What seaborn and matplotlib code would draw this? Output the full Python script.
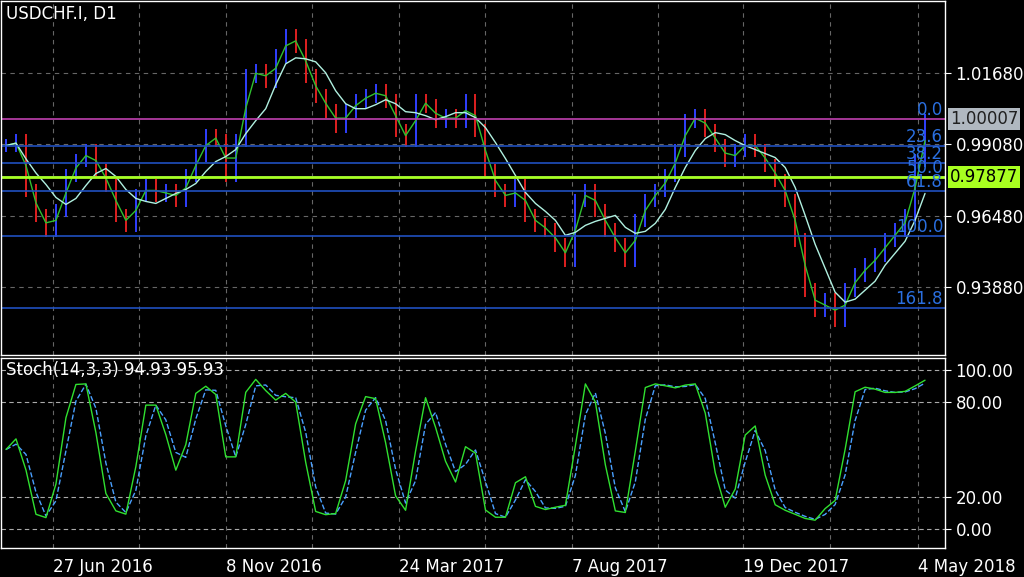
import numpy as np
import pandas as pd
import matplotlib
matplotlib.use("Agg")
import matplotlib.pyplot as plt
import seaborn as sns

# closes, roughly every 5 trading days (pixel y -> price)
close_px = [145, 140, 190, 215, 230, 210, 175, 160, 150, 170, 185, 215, 225, 195, 185, 195, 190, 200,
            175, 155, 135, 140, 175, 140, 75, 70, 80, 55, 35, 45, 75, 95, 110, 125, 110, 100, 95, 90,
            100, 130, 140, 100, 105, 120, 115, 120, 100, 130, 170, 190, 200, 185, 215, 225, 230, 245,
            260, 200, 190, 210, 230, 245, 260, 220, 200, 190, 175, 150, 120, 115, 130, 145, 160, 150,
            140, 150, 165, 180, 200, 240, 290, 310, 300, 320, 290, 275, 265, 255, 240, 230, 215, 160, 120]
closes = [round(1.0429 - y * 0.0003628, 5) for y in close_px]

date_labels = ["27 Jun 2016", "8 Nov 2016", "24 Mar 2017", "7 Aug 2017", "19 Dec 2017", "4 May 2018"]
date_pos = [4.7, 22.0, 39.3, 56.7, 73.8, 91.3]
price_ticks = [1.01680, 0.99080, 0.96480, 0.93880]
fib_names = ["0.0", "23.6", "38.2", "50.0", "61.8", "100.0", "161.8"]
fib_pct = [0.0, 23.6, 38.2, 50.0, 61.8, 100.0, 161.8]
fib_top, fib_bottom = 1.00007, 0.95750
bid = 0.97877

df = pd.DataFrame({"close": closes})
df["open"] = df["close"].shift(1).fillna(df["close"])
df["high"] = df[["open", "close"]].max(axis=1) + 0.0025
df["low"] = df[["open", "close"]].min(axis=1) - 0.0025
df["ma_fast"] = df["close"].rolling(2, min_periods=1).mean()
df["ma_slow"] = df["close"].rolling(5, min_periods=1).mean()
lo = df["low"].rolling(3, min_periods=1).min()
hi = df["high"].rolling(3, min_periods=1).max()
k = 100 * (df["close"] - lo) / (hi - lo)
df["k"] = k.rolling(2, min_periods=1).mean()
df["d"] = df["k"].rolling(2, min_periods=1).mean()
x = np.arange(len(df))

sns.set_style("dark")
plt.rcParams["font.family"] = ["DejaVu Sans"]
fig = plt.figure(figsize=(10.24, 5.77), dpi=100, facecolor="black")
W, H = 1024, 577
ax = fig.add_axes([1 / W, 1 - 355 / H, 944 / W, 354 / H])
ax2 = fig.add_axes([1 / W, 1 - 548 / H, 944 / W, 190 / H])
grid_x = [(g - 5) / 10 for g in [52, 138, 225, 311, 398, 485, 572, 658, 743, 830, 918]]

for a in (ax, ax2):
    a.set_facecolor("black")
    for s in a.spines.values():
        s.set_color("white")
        s.set_linewidth(1)
    a.set_xlim(-0.5, 94)
    for g in grid_x:
        a.axvline(g, color="#666666", ls=(0, (4, 4)), lw=0.8, zorder=0)
    a.grid(False)

# price panel
ax.set_ylim(0.9141, 1.0429)
for pt in price_ticks:
    ax.axhline(pt, color="#666666", ls=(0, (4, 4)), lw=0.8, zorder=0)
up = df["close"] >= df["open"]
ax.vlines(x[up], df["low"][up], df["high"][up], color="#3040ff", lw=1.4)
ax.vlines(x[~up], df["low"][~up], df["high"][~up], color="#e02020", lw=1.4)
sns.lineplot(x=x, y=df["ma_fast"], ax=ax, color="#30c030", lw=1)
sns.lineplot(x=x, y=df["ma_slow"], ax=ax, color="#b0f0e0", lw=1)
rng = fib_top - fib_bottom
for name, p in zip(fib_names, fib_pct):
    lvl = fib_top - rng * p / 100
    ax.axhline(lvl, color="#c040b0" if p == 0 else "#2050c0", lw=1.2)
    ax.text(93.8, lvl, name, color="#2a6fe0", fontsize=12, ha="right", va="bottom")
ax.axhline(bid, color="#a8ff20", lw=2)
ax.yaxis.tick_right()
ax.set_yticks(price_ticks)
ax.set_yticklabels([f"{v:.5f}" for v in price_ticks])
ax.tick_params(axis="y", colors="white", labelsize=12, length=4, direction="out", labelcolor="white")
ax.set_xticks([])
ax.set_xlabel("")
ax.set_ylabel("")
ax.text(94.5, fib_top, "1.00007", color="#202020", fontsize=12, va="center",
        bbox=dict(facecolor="#b0b8c0", edgecolor="none", pad=1.5))
ax.text(94.5, bid, "0.97877", color="black", fontsize=12, va="center",
        bbox=dict(facecolor="#a8ff20", edgecolor="none", pad=1.5))
ax.text(0.005, 0.99, "USDCHF.I, D1", transform=ax.transAxes, color="white", fontsize=12, va="top")

# stochastic panel
ax2.set_ylim(-11.9, 107.5)
for lv in [100, 80, 20, 0]:
    ax2.axhline(lv, color="#aaaaaa", ls=(0, (4, 3)), lw=0.8, zorder=0)
sns.lineplot(x=x, y=df["d"], ax=ax2, color="#4aa0ff", lw=1, ls="--")
sns.lineplot(x=x, y=df["k"], ax=ax2, color="#30e030", lw=1)
ax2.yaxis.tick_right()
ax2.set_yticks([100, 80, 20, 0])
ax2.set_yticklabels(["100.00", "80.00", "20.00", "0.00"])
ax2.tick_params(axis="y", colors="white", labelsize=12, length=4, labelcolor="white")
ax2.set_xticks(date_pos)
ax2.set_xticklabels(date_labels, ha="left")
ax2.tick_params(axis="x", colors="white", labelsize=12, length=4, labelcolor="white")
ax2.set_xlabel("")
ax2.set_ylabel("")
ax2.text(0.005, 0.985, "Stoch(14,3,3) 94.93 95.93", transform=ax2.transAxes, color="white",
         fontsize=12, va="top")

fig.savefig("out.png", dpi=100, facecolor="black")
